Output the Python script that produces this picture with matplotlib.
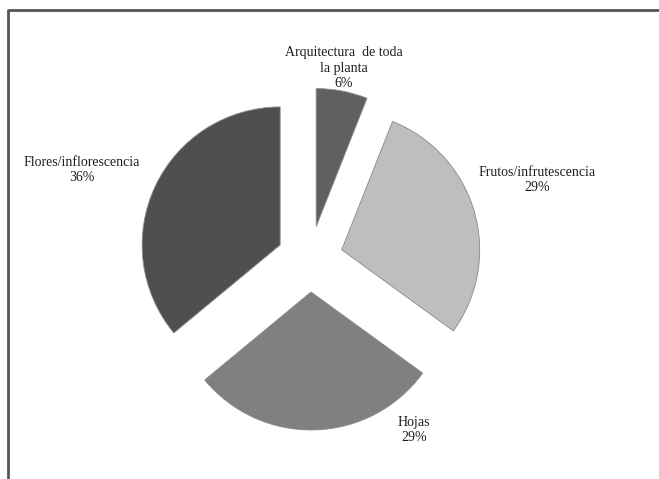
import matplotlib
matplotlib.use("Agg")
import matplotlib.pyplot as plt

categories = ["Arquitectura  de toda\nla planta", "Frutos/infrutescencia", "Hojas", "Flores/inflorescencia"]
values = [6, 29, 29, 36]
colors = ["#606060", "#bebebe", "#808080", "#4f4f4f"]
label_pos = [(344, 479 - 68), (537, 479 - 180), (414, 479 - 430), (82, 479 - 170)]

plt.rcParams['font.family'] = ['Liberation Serif', 'DejaVu Serif']

fig = plt.figure(figsize=(6.59, 4.79), dpi=100)
ax = fig.add_axes([0, 0, 1, 1])

wedges, _ = ax.pie(values, colors=colors, startangle=90, counterclock=False,
                   explode=[33] * len(values), radius=138, center=(310, 220),
                   frame=True,
                   wedgeprops=dict(edgecolor="#8a8a8a", linewidth=0.6))
ax.set_xlim(0, 659)
ax.set_ylim(0, 479)
ax.set_aspect('equal')
ax.axis('off')

for cat, v, (x, y) in zip(categories, values, label_pos):
    ax.text(x, y, f"{cat}\n{v}%", ha='center', va='center', fontsize=10,
            color='#1e1e1e', linespacing=1.25)

# outer frame (left and top visible)
ax.plot([8.3, 8.3, 680], [-10, 469.5, 469.5], color='#555555', lw=2, clip_on=False)

fig.savefig("out.png", dpi=100)
